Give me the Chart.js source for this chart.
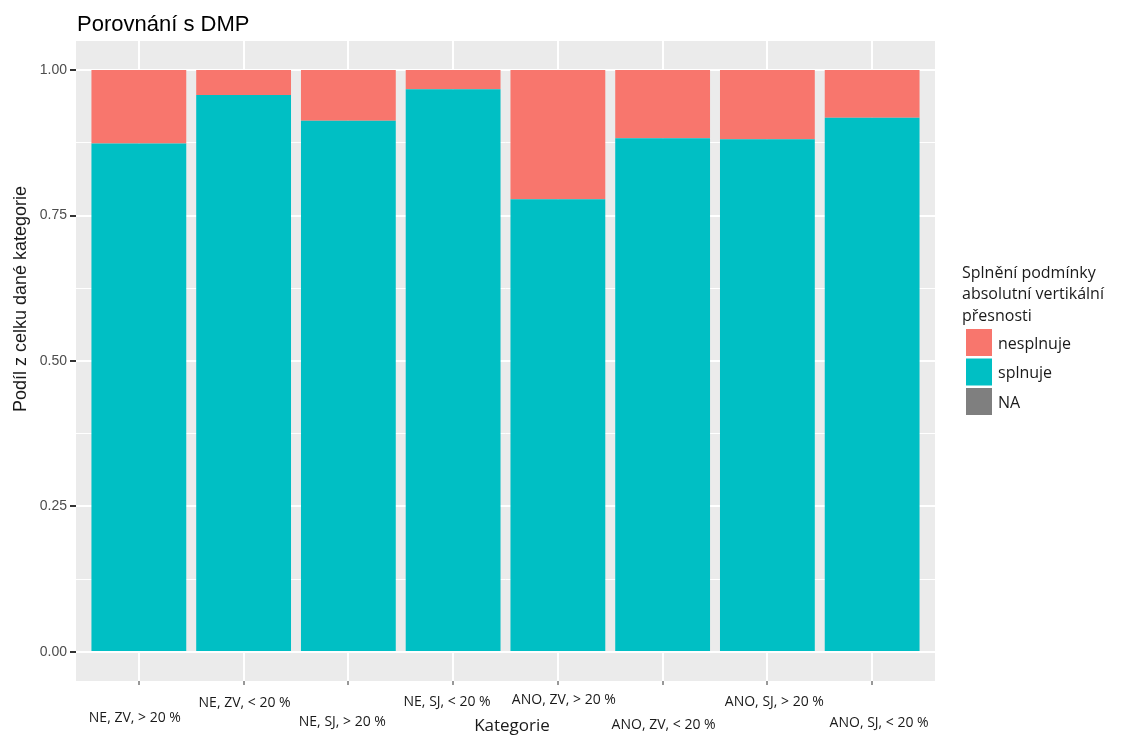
<!DOCTYPE html>
<html>
<head>
<meta charset="utf-8">
<title>Porovnání s DMP</title>
<script src="https://cdn.jsdelivr.net/npm/chart.js@4/dist/chart.umd.min.js"></script>
<style>
  html, body { margin: 0; padding: 0; background: #fff; }
  #wrap { width: 1125px; height: 736px; position: relative; }
</style>
</head>
<body>
<div id="wrap"><canvas id="chart" width="1125" height="736"></canvas></div>
<script>
// --- data ---
const categories = [
  'NE, ZV, > 20 %', 'NE, ZV, < 20 %', 'NE, SJ, > 20 %', 'NE, SJ, < 20 %',
  'ANO, ZV, > 20 %', 'ANO, ZV, < 20 %', 'ANO, SJ, > 20 %', 'ANO, SJ, < 20 %'
];
const splnuje   = [0.874, 0.957, 0.913, 0.967, 0.778, 0.883, 0.881, 0.918];
const nesplnuje = [0.126, 0.043, 0.087, 0.033, 0.222, 0.117, 0.119, 0.082];
const naValues  = [0, 0, 0, 0, 0, 0, 0, 0];
const yTicks = [0, 0.125, 0.25, 0.375, 0.5, 0.625, 0.75, 0.875, 1];

const legendTitle = ['Splnění podmínky', 'absolutní vertikální', 'přesnosti'];
const legendOrder = ['nesplnuje', 'splnuje', 'NA'];

const colors = {
  red: '#F8766D',
  teal: '#00BFC4',
  na: '#7F7F7F',
  panel: '#EBEBEB',
  tickText: '#4D4D4D',
  text: '#1A1A1A'
};

// hand placement of the staggered category labels (dx from tick, y of text centre)
const tickLabelPlacement = [
  [-4, 718], [1, 703], [-6, 722], [-6, 702],
  [6, 700], [1, 725], [7, 702], [7, 723]
];

const toPoints = arr => arr.map((v, i) => ({ x: i, y: v }));
const isMajor = v => Math.round(v * 1000) % 250 === 0;

// gray panel behind the grid
const panelBg = {
  id: 'panelBg',
  beforeDraw(chart) {
    const { ctx, chartArea: a } = chart;
    ctx.save();
    ctx.fillStyle = colors.panel;
    ctx.fillRect(a.left, a.top, a.right - a.left, a.bottom - a.top);
    ctx.restore();
  }
};

// titles, staggered x labels and the legend
const decorations = {
  id: 'decorations',
  afterDraw(chart) {
    const { ctx } = chart;
    const xs = chart.scales.x;
    ctx.save();

    // title
    ctx.fillStyle = '#000';
    ctx.font = '22px "Liberation Sans", Arial, sans-serif';
    ctx.textAlign = 'left';
    ctx.textBaseline = 'alphabetic';
    ctx.fillText('Porovnání s DMP', 77, 31);

    // y axis title
    ctx.save();
    ctx.translate(21, 299);
    ctx.rotate(-Math.PI / 2);
    ctx.font = '18px "Liberation Sans", Arial, sans-serif';
    ctx.fillStyle = colors.text;
    ctx.textAlign = 'center';
    ctx.textBaseline = 'middle';
    ctx.fillText('Podíl z celku dané kategorie', 0, 0);
    ctx.restore();

    // category labels
    ctx.font = '14px "Open Sans", sans-serif';
    ctx.fillStyle = colors.text;
    ctx.textAlign = 'center';
    ctx.textBaseline = 'middle';
    categories.forEach((c, i) => {
      const [dx, y] = tickLabelPlacement[i];
      ctx.fillText(c, xs.getPixelForValue(i) + dx, y);
    });

    // x axis title
    ctx.font = '17px "Open Sans", sans-serif';
    ctx.fillText('Kategorie', 512, 726);

    // legend
    ctx.textAlign = 'left';
    ctx.font = '16px "Open Sans", sans-serif';
    legendTitle.forEach((line, i) => ctx.fillText(line, 962, 273 + i * 21.5));
    legendOrder.forEach((label, i) => {
      const ds = chart.data.datasets.find(d => d.label === label);
      const top = 329 + i * 29.5;
      ctx.fillStyle = ds.backgroundColor;
      ctx.fillRect(966, top, 26, 27);
      ctx.fillStyle = colors.text;
      ctx.fillText(label, 998, top + 15);
    });

    ctx.restore();
  }
};

new Chart(document.getElementById('chart'), {
  type: 'bar',
  data: {
    datasets: [
      { label: 'splnuje', data: toPoints(splnuje), backgroundColor: colors.teal },
      { label: 'nesplnuje', data: toPoints(nesplnuje), backgroundColor: colors.red },
      { label: 'NA', data: toPoints(naValues), backgroundColor: colors.na }
    ]
  },
  options: {
    responsive: false,
    animation: false,
    layout: { padding: { left: 0, top: 41, right: 190, bottom: 0 } },
    datasets: {
      bar: { barPercentage: 0.905, categoryPercentage: 1, borderWidth: 0 }
    },
    plugins: {
      legend: { display: false },
      tooltip: { enabled: false }
    },
    scales: {
      x: {
        type: 'linear',
        stacked: true,
        offset: false,
        min: -0.6,
        max: 7.6,
        afterBuildTicks: s => { s.ticks = categories.map((c, i) => ({ value: i })); },
        afterFit: s => { s.height = 55; },
        ticks: { display: false },
        border: { display: false },
        grid: { offset: false, color: '#fff', lineWidth: 2, tickColor: '#333', tickLength: 4, tickWidth: 1 }
      },
      y: {
        stacked: true,
        min: -0.05,
        max: 1.05,
        afterBuildTicks: s => { s.ticks = yTicks.map(v => ({ value: v })); },
        afterFit: s => { s.width = 76; },
        border: { display: false },
        ticks: {
          color: colors.tickText,
          font: { family: '"Liberation Sans", Arial, sans-serif', size: 14 },
          padding: 3,
          callback: v => (isMajor(v) ? v.toFixed(2) : '')
        },
        grid: {
          color: '#fff',
          lineWidth: c => (c.tick && isMajor(c.tick.value) ? 2 : 1),
          tickLength: 6,
          tickColor: c => (c.tick && isMajor(c.tick.value) ? '#333' : 'rgba(0,0,0,0)')
        }
      }
    }
  },
  plugins: [panelBg, decorations]
});
</script>
</body>
</html>
